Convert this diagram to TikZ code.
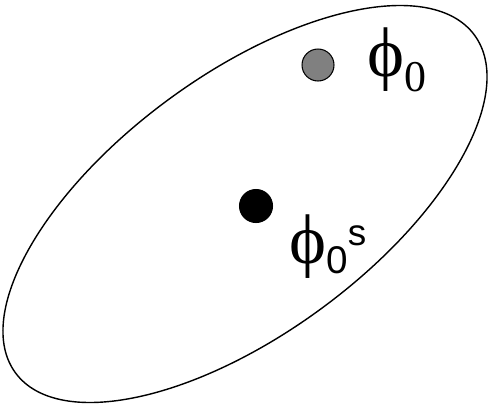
\documentclass[tikz,border=0pt]{standalone}
\usepackage{fontspec}
\usepackage{xcolor}
\usepackage{tikz}
\usetikzlibrary{positioning}
\newfontfamily\greekserif{Liberation Serif}
\newfontfamily\labelsans{Liberation Sans}
\definecolor{dotGray}{HTML}{808080}
\definecolor{dotInk}{HTML}{000000}
\tikzset{
  ringline/.style={draw=dotInk, line width=0.8pt},
  statedot/.style={circle, draw=dotInk, line width=0.6pt, inner sep=0pt},
  statelabel/.style={anchor=base west, inner sep=0pt, text=dotInk}
}

\begin{document}
\begin{tikzpicture}[x=0.02cm, y=-0.02cm]
  \useasboundingbox (0,0) rectangle (490,406);
  % region of states
  \coordinate (centre) at (245,204);
  \draw[ringline, rotate around={36.35:(centre)}] (centre) ellipse [x radius=5.7cm, y radius=2.59cm];
  % the two states
  \node[statedot, fill=dotGray, minimum size=0.64cm] (phi) at (318,65) {};
  \node[statedot, fill=dotInk, minimum size=0.66cm] (phis) at (256,206) {};
  \node[statelabel] (philabel) at (367,76)
    {\greekserif\fontsize{40pt}{40pt}\selectfont ϕ\raisebox{-9pt}{\fontsize{25pt}{25pt}\selectfont 0}};
  \node[statelabel] (phislabel) at (289,263)
    {\greekserif\fontsize{40pt}{40pt}\selectfont ϕ\raisebox{-6pt}{\labelsans\fontsize{22pt}{22pt}\selectfont 0}\raisebox{10pt}{\labelsans\fontsize{21pt}{21pt}\selectfont s}};
\end{tikzpicture}
\end{document}
